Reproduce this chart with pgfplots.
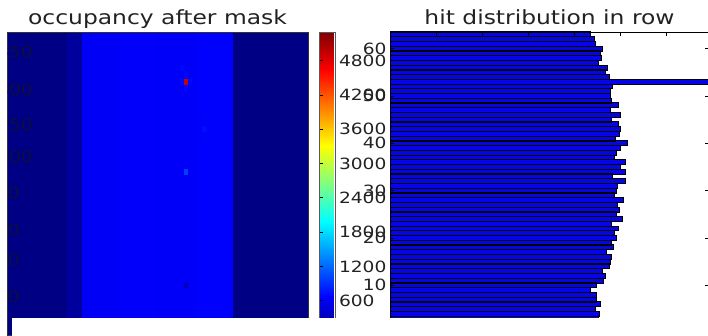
\documentclass[border=0pt]{standalone}
\usepackage{fontspec}
\setmainfont{DejaVu Sans}[FakeStretch=1.2]
\usepackage{pgfplots}
\usepgfplotslibrary{patchplots}
\pgfplotsset{compat=1.18,
  /pgf/number format/assume math mode=true,
  /pgf/number format/1000 sep={}}
\definecolor{txt}{HTML}{222222}
\definecolor{barblue}{RGB}{5,5,232}
\definecolor{ghost}{RGB}{14,14,62}
\begin{document}
\begin{tikzpicture}
\useasboundingbox (0pt,0pt) rectangle (708pt,336pt);
% ---------------- left: occupancy heat map ----------------
\begin{axis}[
  at={(7pt,1pt)}, anchor=south west,
  scale only axis, width=301pt, height=303pt,
  xmin=-0.5, xmax=79.5, ymin=-0.5, ymax=63.5,
  enlargelimits=false, axis on top,
  xtick=\empty, ytick=\empty,
  axis line style={black!80, line width=0.7pt},
  colormap/jet,
  point meta min=0, point meta max=5300,
  title={occupancy after mask},
  title style={at={(0.5,1)}, anchor=base, yshift=1pt, text=txt,
    font=\fontsize{19.5}{22}\selectfont},
  colorbar,
  colorbar style={
    at={(parent axis.north east)}, anchor=north west, xshift=3pt,
    scale only axis, width=16pt, height=303pt,
    ytick={600,1200,1800,2400,3000,3600,4200,4800},
    scaled y ticks=false,
    tick align=inside, ytick pos=left, yticklabel pos=right,
    major tick length=3pt,
    tick style={black, line width=0.6pt},
    yticklabel style={font=\fontsize{15.5}{18}\selectfont, text=txt},
    axis line style={black!65, line width=0.8pt},
  },
]
\addplot[patch, patch type=rectangle, shader=flat, point meta=explicit]
  table[meta=c] {
x y c
-0.5 -0.5 20
15.5 -0.5 20
15.5 63.5 20
-0.5 63.5 20
15.5 -0.5 150
19.5 -0.5 150
19.5 63.5 150
15.5 63.5 150
19.5 -0.5 620
29.5 -0.5 620
29.5 63.5 620
19.5 63.5 620
29.5 -0.5 640
39.5 -0.5 640
39.5 63.5 640
29.5 63.5 640
39.5 -0.5 630
49.5 -0.5 630
49.5 63.5 630
39.5 63.5 630
49.5 -0.5 650
59.5 -0.5 650
59.5 63.5 650
49.5 63.5 650
59.5 -0.5 20
79.5 -0.5 20
79.5 63.5 20
59.5 63.5 20
45.5 52.5 700
46.5 52.5 700
46.5 53.5 700
45.5 53.5 700
47.5 52.5 700
48.5 52.5 700
48.5 53.5 700
47.5 53.5 700
46.5 51.5 700
47.5 51.5 700
47.5 52.5 700
46.5 52.5 700
46.5 53.5 700
47.5 53.5 700
47.5 54.5 700
46.5 54.5 700
46.5 52.5 4900
47.5 52.5 4900
47.5 53.5 4900
46.5 53.5 4900
46.5 33.5 1000
47.5 33.5 1000
47.5 34.5 1000
46.5 34.5 1000
51.5 42.5 720
52.5 42.5 720
52.5 43.5 720
51.5 43.5 720
45.5 55.5 690
46.5 55.5 690
46.5 56.5 690
45.5 56.5 690
46.5 9.5 300
47.5 9.5 300
47.5 10.5 300
46.5 10.5 300
};
\end{axis}
% partly hidden tick labels at the cropped left edge
\begin{scope}
\clip (7pt,1pt) rectangle (308pt,304pt);
\foreach \yy/\lab/\xx in {284/350/33, 246/300/33, 211/250/33, 179/200/33,
                         143/50/20, 106/40/20, 76/30/20, 39/20/20}{
  \node[anchor=east, inner sep=0pt, text=ghost,
        font=\fontsize{15.5}{18}\selectfont] at (\xx pt,\yy pt) {\lab};
}
\end{scope}
% ---------------- right: hit distribution ----------------
\begin{axis}[
  at={(390pt,1pt)}, anchor=south west,
  scale only axis, width=319pt, height=303pt,
  xmin=0, xmax=6935, ymin=-0.5, ymax=63.5,
  axis on top,
  xtick={0,1000,2000,3000,4000,5000,6000}, xticklabel=\empty,
  ytick={10,20,30,40,50,60},
  ytick pos=both, yticklabel pos=left,
  tick align=inside, major tick length=4pt,
  tick style={black, line width=0.6pt},
  axis line style={black, line width=0.8pt},
  yticklabel style={font=\fontsize{15.5}{18}\selectfont, text=txt},
  title={hit distribution in row},
  title style={at={(0.5,1)}, anchor=base, yshift=1pt, text=txt,
    font=\fontsize{19.5}{22}\selectfont},
]
\addplot[xbar, bar width=1.04, bar shift=0pt, fill=barblue, draw=black, line width=0.9pt]
  table[x=hits, y=row] {
row hits
0 4500
1 4560
2 4520
3 4540
4 4550
5 4457
6 4580
7 4478
8 4493
9 4348
10 4478
11 4637
12 4674
13 4624
14 4767
15 4783
16 4804
17 4711
18 4854
19 4804
20 4913
21 4876
22 4963
23 4820
24 5059
25 4928
26 4985
27 4950
28 5072
29 4876
30 4928
31 4941
32 5124
33 4841
34 5124
35 5000
36 5124
37 4876
38 4928
39 5015
40 5167
41 4891
42 4978
43 5015
44 4963
45 4820
46 5015
47 4783
48 4963
49 4820
50 4798
51 4798
52 4841
53 15000
54 4761
55 4674
56 4724
57 4528
58 4602
59 4580
60 4624
61 4457
62 4435
63 4348
};
\end{axis}
% white band that covers the bottom of the screenshot
\fill[white] (12pt,0pt) rectangle (708pt,18pt);
\end{tikzpicture}
\end{document}
